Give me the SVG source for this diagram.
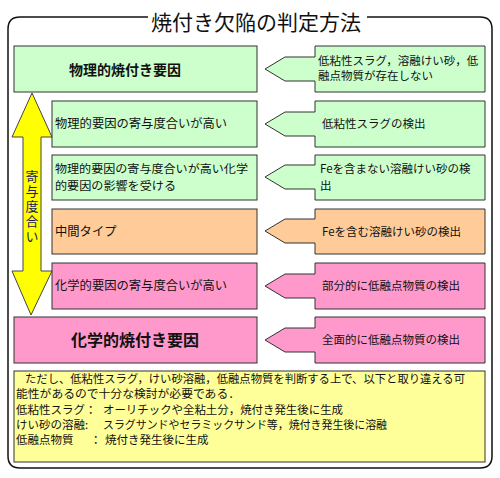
<svg xmlns="http://www.w3.org/2000/svg" width="500" height="478" viewBox="0 0 500 478">
<style>
text{font-family:"Noto Sans CJK JP","Noto Sans",sans-serif;fill:#111}
.g{fill:#ccffcc}.o{fill:#ffcc99}.p{fill:#ff99cc}
.b{stroke:#333;stroke-width:1}
.t{font-size:12.3px}
.r{font-size:11.5px}
.n{font-size:11.5px}
.big{font-weight:bold;text-anchor:middle}
</style>
<rect x="0" y="0" width="500" height="478" fill="#fff"/>
<g id="frame">
<path d="M148,17 H20 Q8,17 8,29 V456 Q8,468 20,468 H480 Q492,468 492,456 V29 Q492,17 480,17 H367" fill="none" stroke="#111" stroke-width="1.5"/>
<text x="256" y="30" font-size="21" text-anchor="middle">焼付き欠陥の判定方法</text>
</g>
<g id="connectors">
<path id="arrow" d="M32,93 L52,137 L41,137 L41,271 L52,271 L31,315 L12,271 L23,271 L23,137 L12,137 Z" fill="#ffff00" stroke="#444" stroke-width="1"/>
<text x="32" y="170" font-size="13" letter-spacing="2" style="writing-mode:vertical-rl;fill:#1a1a60">寄与度合い</text>
</g>
<g id="n1"><rect class="g b" x="14" y="46" width="243" height="46"/><text class="big" x="125" y="75" font-size="14">物理的焼付き要因</text></g>
<g id="n2"><rect class="g b" x="52" y="101" width="205" height="46"/><text class="t" x="55" y="128">物理的要因の寄与度合いが高い</text></g>
<g id="n3"><rect class="g b" x="52" y="155" width="205" height="45"/><text font-size="11.5"><tspan x="55" y="173" textLength="193" lengthAdjust="spacingAndGlyphs">物理的要因の寄与度合いが高い化学</tspan><tspan x="55" y="190" textLength="121" lengthAdjust="spacingAndGlyphs">的要因の影響を受ける</tspan></text></g>
<g id="n4"><rect class="o b" x="52" y="209" width="205" height="45"/><text class="t" x="55" y="236">中間タイプ</text></g>
<g id="n5"><rect class="p b" x="52" y="263" width="205" height="46"/><text class="t" x="55" y="290">化学的要因の寄与度合いが高い</text></g>
<g id="n6"><rect class="p b" x="14" y="317" width="243" height="46"/><text class="big" x="135" y="346" font-size="16">化学的焼付き要因</text></g>
<g id="c1"><path class="g b" d="M315,46 H485 V92 H315 V81 H285 L265,69 L285,57 H315 Z"/><text class="r"><tspan x="318" y="65">低粘性スラグ，溶融けい砂，低</tspan><tspan x="318" y="80">融点物質が存在しない</tspan></text></g>
<g id="c2"><path class="g b" d="M315,101 H485 V147 H315 V136 H285 L265,124 L285,112 H315 Z"/><text class="r" x="322" y="128">低粘性スラグの検出</text></g>
<g id="c3"><path class="g b" d="M315,155 H485 V200 H315 V189 H285 L265,177 L285,165 H315 Z"/><text class="r"><tspan x="320" y="173">Feを含まない溶融けい砂の検</tspan><tspan x="320" y="190">出</tspan></text></g>
<g id="c4"><path class="o b" d="M315,209 H485 V254 H315 V243 H285 L265,231 L285,219 H315 Z"/><text class="r" x="322" y="236">Feを含む溶融けい砂の検出</text></g>
<g id="c5"><path class="p b" d="M315,263 H485 V309 H315 V298 H285 L265,286 L285,274 H315 Z"/><text class="r" x="322" y="290">部分的に低融点物質の検出</text></g>
<g id="c6"><path class="p b" d="M315,317 H485 V363 H315 V352 H285 L265,340 L285,328 H315 Z"/><text class="r" x="322" y="344">全面的に低融点物質の検出</text></g>
<g id="note">
<rect x="14" y="371" width="471" height="91" fill="#ffff99" stroke="#333" stroke-width="1"/>
<text class="n"><tspan x="25" y="383" textLength="440" lengthAdjust="spacingAndGlyphs">ただし、低粘性スラグ，けい砂溶融，低融点物質を判断する上で、以下と取り違える可</tspan><tspan x="16" y="398" textLength="224" lengthAdjust="spacingAndGlyphs">能性があるので十分な検討が必要である．</tspan><tspan x="16" y="414">低粘性スラグ：</tspan><tspan x="103" y="414" textLength="240" lengthAdjust="spacingAndGlyphs">オーリチックや全粘土分，焼付き発生後に生成</tspan><tspan x="16" y="429">けい砂の溶融:</tspan><tspan x="103" y="429" textLength="284" lengthAdjust="spacingAndGlyphs">スラグサンドやセラミックサンド等，焼付き発生後に溶融</tspan><tspan x="16" y="444">低融点物質</tspan><tspan x="90" y="444">：</tspan><tspan x="105" y="444">焼付き発生後に生成</tspan></text>
</g>
</svg>
